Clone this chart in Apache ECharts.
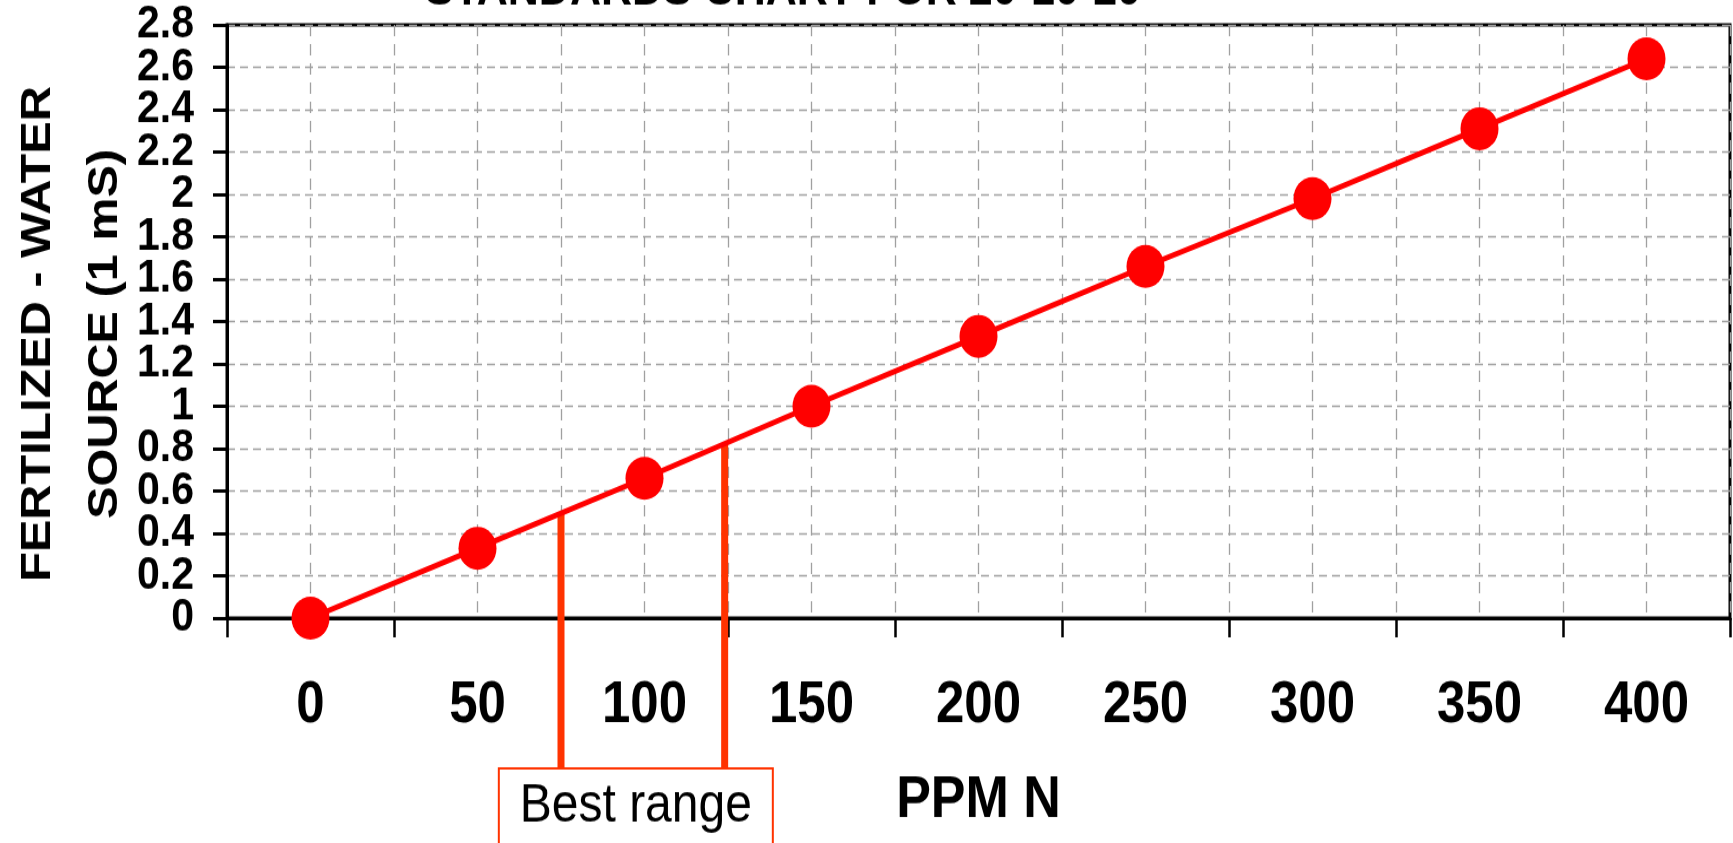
<!DOCTYPE html>
<html>
<head>
<meta charset="utf-8">
<script src="https://cdn.jsdelivr.net/npm/echarts@6/dist/echarts.min.js"></script>
<style>
html, body { margin: 0; padding: 0; background: #fff; overflow: hidden; }
#wrap { width: 1733px; height: 843px; overflow: hidden; }
#chart { width: 1733px; height: 746px; transform: scaleY(1.13); transform-origin: 0 0; }
</style>
</head>
<body>
<div id="wrap"><div id="chart"></div></div>
<script>
// ---- data ----
var ppmN = [0, 50, 100, 150, 200, 250, 300, 350, 400];
var ecValues = [0, 0.33, 0.66, 1.0, 1.33, 1.66, 1.98, 2.31, 2.64];
var bestRangePpm = [75, 124];
var bestRangeEc = [0.5, 0.82];
var titleText = 'STANDARDS CHART FOR 20-10-20';
var xAxisTitle = 'PPM N';
var yAxisTitle = 'FERTILIZED - WATER\nSOURCE (1 mS)';
var boxLabel = 'Best range';

var FONT = "'Liberation Sans', Arial, Helvetica, sans-serif";
var seriesData = ppmN.map(function (x, i) { return [x, ecValues[i]]; });
var rangeData = bestRangePpm.map(function (x, i) { return [x, bestRangeEc[i]]; });

// index of a y tick (0, 0.2, 0.4 ...) -> 0, 1, 2 ...
function yStep(v) { return Math.round(v / 0.2); }

var yLabelStyle = {
  margin: 33, fontFamily: FONT, fontWeight: 'bold', fontSize: 41, lineHeight: 30, color: '#000',
  hideOverlap: false
};

var chart = echarts.init(document.getElementById('chart'));
chart.setOption({
  backgroundColor: '#fff',
  animation: false,
  title: {
    text: titleText,
    left: 425,
    top: -29,
    padding: 0,
    textStyle: { fontFamily: FONT, fontWeight: 'bold', fontSize: 43, color: '#000' }
  },
  grid: {
    left: 227, right: 3, top: 22, bottom: 199,
    outerBoundsMode: 'none',
    containLabel: false,
    show: true, borderColor: '#000', borderWidth: 3, backgroundColor: 'transparent'
  },
  xAxis: [{
    type: 'value', min: -25, max: 425, interval: 25, position: 'bottom',
    name: xAxisTitle, nameLocation: 'middle', nameGap: 136, nameMoveOverlap: false,
    nameTextStyle: { fontFamily: FONT, fontWeight: 'bold', fontSize: 52, color: '#000' },
    axisLine: { show: true, onZero: false, lineStyle: { color: '#000', width: 3 } },
    axisTick: { show: false },
    axisLabel: {
      margin: 52, fontFamily: FONT, fontWeight: 'bold', fontSize: 51, color: '#000',
      showMinLabel: true, showMaxLabel: true, hideOverlap: false,
      formatter: function (v) { return (v >= 0 && v <= 400 && v % 50 === 0) ? String(v) : ''; }
    },
    splitLine: { show: true, lineStyle: { color: '#a0a0a0', width: 1.3, type: [10, 7] } }
  }, {
    type: 'value', min: -25, max: 425, interval: 50, position: 'bottom',
    axisLine: { show: false, onZero: false },
    axisTick: { show: true, inside: false, length: 17, lineStyle: { color: '#000', width: 2.5 } },
    axisLabel: { show: false },
    splitLine: { show: false }
  }],
  yAxis: [{
    type: 'value', min: 0, max: 2.8, interval: 0.2, position: 'left',
    name: yAxisTitle, nameLocation: 'middle', nameRotate: 90, nameGap: 88, nameMoveOverlap: false,
    nameTextStyle: { fontFamily: FONT, fontWeight: 'bold', fontSize: 43, color: '#000', lineHeight: 67, padding: [0, 22, 0, 0] },
    axisLine: { show: true, onZero: false, lineStyle: { color: '#000', width: 3 } },
    axisTick: { show: true, inside: false, length: 14, lineStyle: { color: '#000', width: 3 } },
    axisLabel: Object.assign({}, yLabelStyle, {
      showMinLabel: true, showMaxLabel: true,
      formatter: function (v) { return yStep(v) % 2 === 0 ? String(v) : ''; }
    }),
    splitLine: { show: true, lineStyle: { color: '#a0a0a0', width: 1.3, type: [8, 5] } }
  }, {
    type: 'value', min: 0, max: 2.8, interval: 0.2, position: 'left', offset: 0,
    axisLine: { show: false, onZero: false },
    axisTick: { show: false },
    axisLabel: Object.assign({}, yLabelStyle, {
      showMinLabel: false, showMaxLabel: false,
      formatter: function (v) { return yStep(v) % 2 === 1 ? String(v) : ''; }
    }),
    splitLine: { show: false }
  }],
  series: [{
    type: 'custom',
    xAxisIndex: 0,
    yAxisIndex: 0,
    clip: false,
    z: 1,
    data: rangeData,
    renderItem: function (params, api) {
      var top = api.coord([api.value(0), api.value(1)]);
      var base = api.coord([api.value(0), 0]);
      return {
        type: 'line',
        shape: { x1: top[0], y1: top[1], x2: top[0], y2: base[1] + 133 },
        style: { stroke: '#ff3300', lineWidth: 7 }
      };
    }
  }, {
    type: 'custom',
    xAxisIndex: 0,
    yAxisIndex: 0,
    clip: false,
    z: 1,
    data: [[bestRangePpm[0], bestRangePpm[1]]],
    renderItem: function (params, api) {
      var p1 = api.coord([api.value(0), 0]);
      var p2 = api.coord([api.value(1), 0]);
      var cx = (p1[0] + p2[0]) / 2 - 7;
      var w = 274;
      var top = p1[1] + 133;
      return {
        type: 'group',
        children: [{
          type: 'rect',
          shape: { x: cx - w / 2, y: top, width: w, height: 120 },
          style: { fill: '#fff', stroke: '#ff3300', lineWidth: 2 }
        }, {
          type: 'text',
          style: {
            x: cx, y: top + 34, text: boxLabel, align: 'center', verticalAlign: 'middle',
            fontFamily: FONT, fontSize: 48, fill: '#000'
          }
        }]
      };
    }
  }, {
    type: 'line',
    xAxisIndex: 0,
    yAxisIndex: 0,
    data: seriesData,
    z: 3,
    symbol: 'circle',
    symbolSize: 38,
    itemStyle: { color: '#ff0000' },
    lineStyle: { color: '#ff0000', width: 5 }
  }]
});
</script>
</body>
</html>
